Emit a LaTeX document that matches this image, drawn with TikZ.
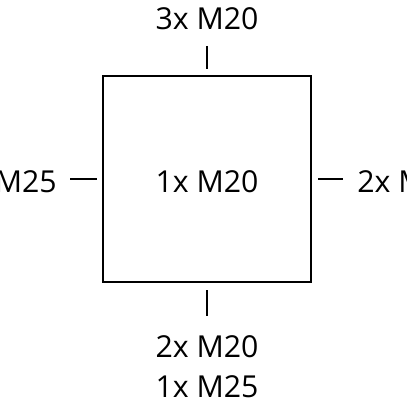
\documentclass[tikz,border=0pt]{standalone}
\usepackage{fontspec}
\setmainfont{Open Sans}
\usepackage{tikz}

\tikzset{
	label/.style={font=\fontsize{21.5}{24}\selectfont, inner sep=0pt, anchor=base},
	box/.style={line width=1.4pt},
	tick/.style={line width=1.4pt}
}

\begin{document}
\begin{tikzpicture}[x=0.025cm, y=-0.025cm]
			\useasboundingbox (0,0) rectangle (407,407);
			\clip (0,0) rectangle (407,407);

			\draw[box] (103,76) rectangle (311,282);

			\draw[tick] (207,46) -- (207,69);
			\draw[tick] (207,290) -- (207,316);
			\draw[tick] (70,179) -- (97,179);
			\draw[tick] (318,179) -- (343,179);

			\node[label] (top) at (207,30) {3x M20};
			\node[label] (mid) at (207,192) {1x M20};
			\node[label, anchor=base east] (left) at (57,192) {1x M25};
			\node[label, anchor=base west] (right) at (357,192) {2x M20};
			\node[label] (bot1) at (207,357) {2x M20};
			\node[label] (bot2) at (207,397) {1x M25};
		\end{tikzpicture}
\end{document}
